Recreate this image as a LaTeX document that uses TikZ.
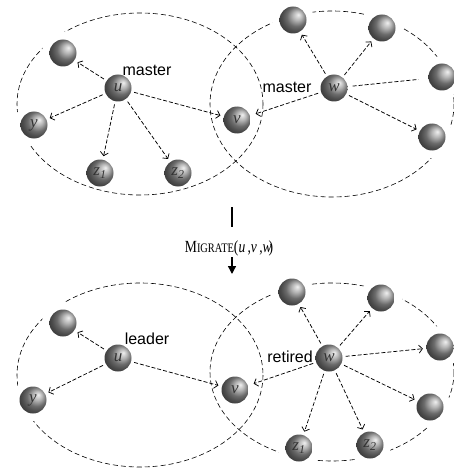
\documentclass[tikz,border=0pt]{standalone}
\usepackage{fontspec}
\setmainfont{Liberation Serif}
\newfontfamily\lsans{Liberation Sans}
\usetikzlibrary{arrows.meta}
\begin{document}
\begin{tikzpicture}[x=1pt,y=-1pt,
  ballnode/.style={circle, minimum size=27pt, inner sep=0pt, ball color=gray!80, shading angle=-90,
    font=\fontsize{17}{17}\selectfont\itshape, text=black!80},
  ell/.style={line width=0.6pt, dash pattern=on 5pt off 3pt},
  arr/.style={line width=0.75pt, dash pattern=on 4pt off 2pt, -{Straight Barb[length=3.5pt,width=8pt]}, shorten >=3.5pt, shorten <=3pt},
  plainln/.style={line width=0.75pt, dash pattern=on 4pt off 2pt, shorten >=10pt, shorten <=5pt},
  lbl/.style={font=\lsans\fontsize{16}{16}\selectfont, inner sep=0pt},
  halo/.style={fill=white}
]
\useasboundingbox (0,0) rectangle (454,468);

% ---------- coordinates of balls ----------
\coordinate (tA) at (63,53);   \coordinate (tu) at (118,88);  \coordinate (ty) at (34,125);
\coordinate (tz1) at (100,173);\coordinate (tz2) at (178,173);\coordinate (tv) at (237,120);
\coordinate (tw) at (334,88);  \coordinate (tB) at (293,20);  \coordinate (tC) at (382,28);
\coordinate (tD) at (442,77);  \coordinate (tE) at (432,137);

\coordinate (bA) at (63,323);  \coordinate (bu) at (118,358); \coordinate (by) at (33,400);
\coordinate (bv) at (235,390); \coordinate (bw) at (329,358); \coordinate (bB) at (292,292);
\coordinate (bC) at (381,298); \coordinate (bD) at (440,347); \coordinate (bE) at (430,407);
\coordinate (bz1) at (299,448);\coordinate (bz2) at (370,445);

% ---------- ellipses ----------
\draw[ell] (140,104) ellipse [x radius=123, y radius=91];
\draw[ell] (332,104) ellipse [x radius=122, y radius=93];
\draw[ell] (140,375) ellipse [x radius=123, y radius=92];
\draw[ell] (332,372) ellipse [x radius=122, y radius=89];

% ---------- halos (gaps in the ellipses) ----------
\foreach \c in {tA,ty,tB,tC,tD,tE,bA,by,bB,bC,bD,bE,bz1,bz2}
  \fill[halo] (\c) circle (21pt);

% ---------- balls ----------
\node[ballnode] (nA)  at (tA)  {};
\node[ballnode] (nu)  at (tu)  {u};
\node[ballnode] (ny)  at (ty)  {y};
\node[ballnode] (nz1) at (tz1) {z\textsubscript{1}};
\node[ballnode] (nz2) at (tz2) {z\textsubscript{2}};
\node[ballnode] (nv)  at (tv)  {v};
\node[ballnode] (nw)  at (tw)  {w};
\node[ballnode] (nB)  at (tB)  {};
\node[ballnode] (nC)  at (tC)  {};
\node[ballnode] (nD)  at (tD)  {};
\node[ballnode] (nE)  at (tE)  {};

\node[ballnode] (mA)  at (bA)  {};
\node[ballnode] (mu)  at (bu)  {u};
\node[ballnode] (my)  at (by)  {y};
\node[ballnode] (mv)  at (bv)  {v};
\node[ballnode] (mw)  at (bw)  {w};
\node[ballnode] (mB)  at (bB)  {};
\node[ballnode] (mC)  at (bC)  {};
\node[ballnode] (mD)  at (bD)  {};
\node[ballnode] (mE)  at (bE)  {};
\node[ballnode] (mz1) at (bz1) {z\textsubscript{1}};
\node[ballnode] (mz2) at (bz2) {z\textsubscript{2}};

% ---------- arrows top ----------
\draw[arr] (nu) -- (nA);
\draw[arr] (nu) -- (ny);
\draw[arr] (nu) -- (nz1);
\draw[arr] (nu) -- (nz2);
\draw[arr] (nu) -- (nv);
\draw[arr] (nw) -- (nB);
\draw[arr] (nw) -- (nC);
\draw[plainln] (nw) -- (nD);
\draw[arr] (nw) -- (nE);
\draw[arr, shorten >=6pt] (nw) -- (nv);

% ---------- arrows bottom ----------
\draw[arr] (mu) -- (mA);
\draw[arr] (mu) -- (my);
\draw[arr] (mu) -- (mv);
\draw[arr] (mw) -- (mB);
\draw[arr] (mw) -- (mC);
\draw[arr] (mw) -- (mD);
\draw[arr] (mw) -- (mE);
\draw[arr, shorten >=6pt] (mw) -- (mv);
\draw[arr] (mw) -- (mz1);
\draw[arr] (mw) -- (mz2);

% ---------- labels ----------
\node[lbl] (l1) at (147,70) {master};
\node[lbl] (l2) at (287,87) {master};
\node[lbl] (l3) at (147,339) {leader};
\node[lbl] (l4) at (290,357) {retired};

% ---------- migrate ----------
\coordinate (bar1) at (232,207);
\coordinate (bar2) at (232,227);
\coordinate (arr1) at (232,257);
\coordinate (arr2) at (232,274);
\draw[line width=1.6pt] (bar1) -- (bar2);
\draw[line width=1.4pt, -{Triangle[length=8pt,width=8pt]}] (arr1) -- (arr2);
\node[inner sep=0pt] (mig) at (229,248)
  {\scalebox{0.8}[1]{{\fontsize{17}{17}\selectfont M}{\fontsize{13}{13}\selectfont IGRATE}{\fontsize{17}{17}\selectfont(\textit{u}\,,\textit{v}\,,\textit{w}\kern-4pt)}}};
\end{tikzpicture}
\end{document}
